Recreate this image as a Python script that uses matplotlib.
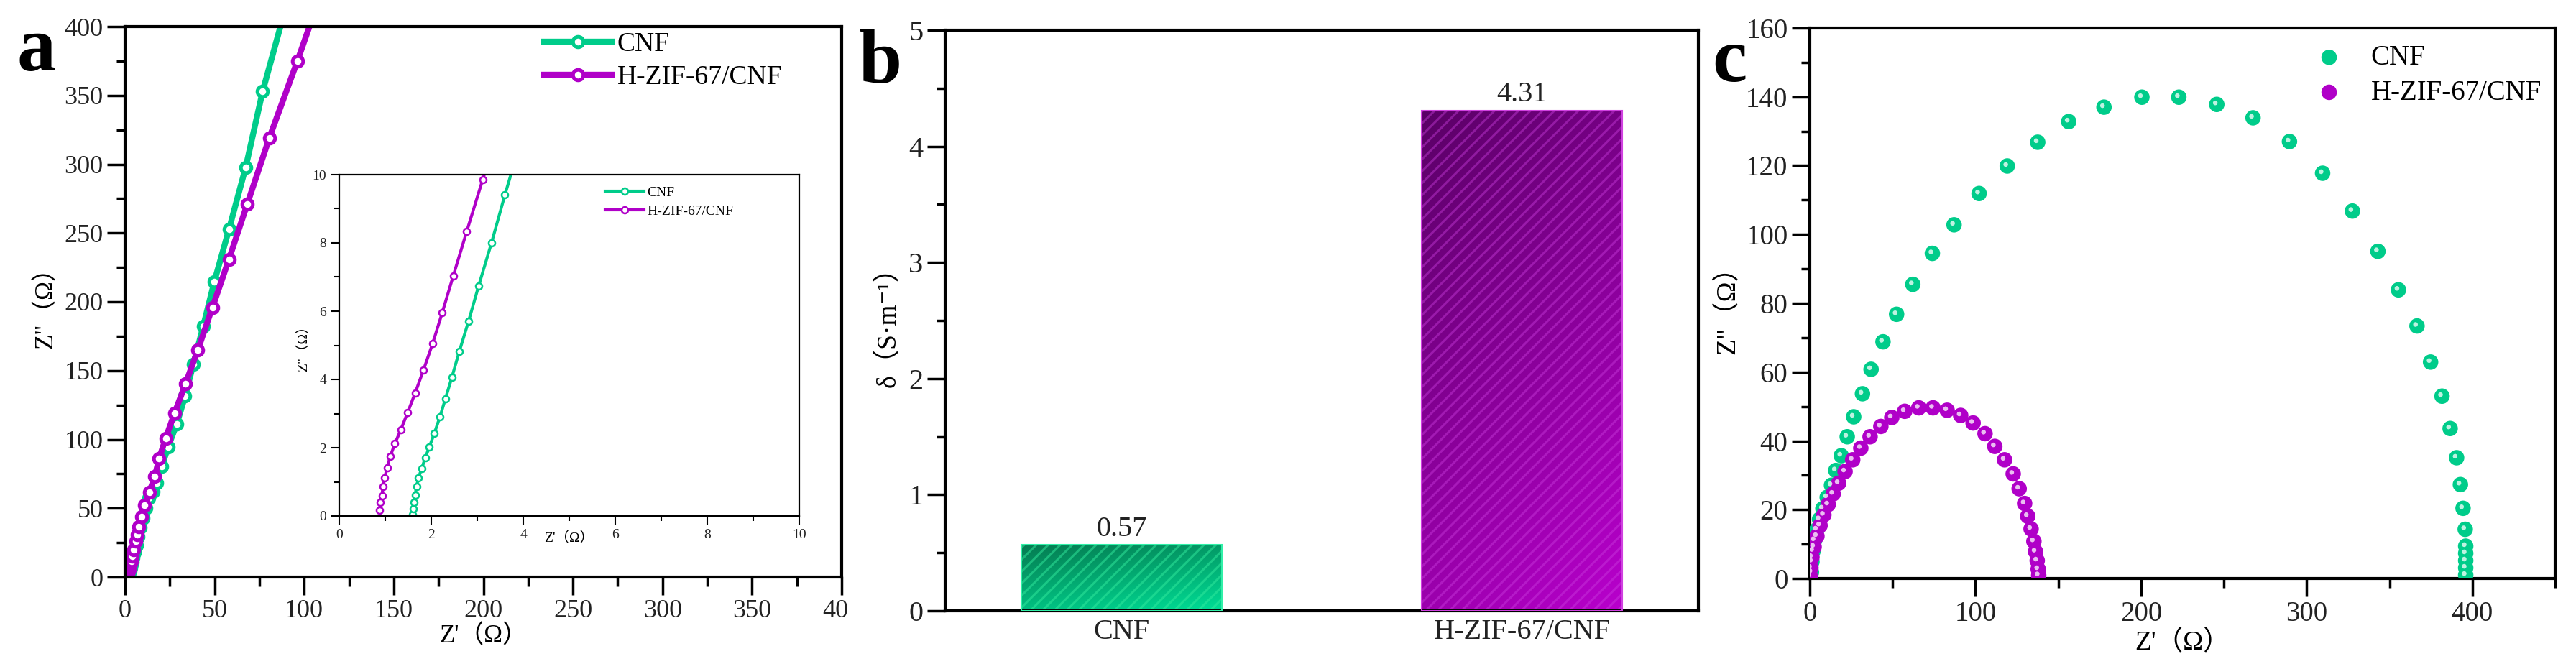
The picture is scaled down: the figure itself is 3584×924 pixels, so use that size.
import numpy as np
import matplotlib
matplotlib.use('Agg')
import matplotlib.pyplot as plt
from matplotlib.colors import LinearSegmentedColormap
from matplotlib.ticker import MultipleLocator
from matplotlib.transforms import Bbox, TransformedBbox, offset_copy

plt.rcParams['font.family'] = ['Liberation Serif', 'DejaVu Serif', 'Noto Sans CJK SC']
plt.rcParams['hatch.linewidth'] = 2.2

green = '#00cc8a'
purple = '#b000c8'
labels = ['CNF', 'H-ZIF-67/CNF']

# panel a - low frequency part of Nyquist plot
cnf_a_re = [1.59, 1.61, 1.63, 1.65, 1.68, 1.72, 1.79, 1.87, 1.96, 2.07, 2.19, 2.31, 2.45, 2.61,
            2.81, 3.03, 3.31, 3.60, 3.95, 4.6, 5.4, 6.3, 7.4, 8.6, 10.0, 11.6, 13.3, 15.5,
            17.5, 20.6, 24.0, 28.9, 33.5, 38.1, 43.6, 49.8, 58.0, 67.3, 76.8, 92.0]
cnf_a_im = [0.04, 0.22, 0.41, 0.62, 0.86, 1.11, 1.38, 1.70, 2.03, 2.43, 2.91, 3.44, 4.07, 4.82,
            5.70, 6.74, 8.0, 9.40, 11.0, 14.0, 18.0, 23.0, 29.0, 36.0, 43.0, 50.0, 57.5, 62.0,
            68.3, 80.6, 94.5, 111.4, 131.4, 154.5, 182.0, 214.5, 252.6, 297.5, 352.9, 425.0]
hzif_a_re = [0.88, 0.89, 0.93, 0.95, 0.99, 1.04, 1.11, 1.21, 1.34, 1.49, 1.65, 1.83, 2.03, 2.24,
             2.48, 2.77, 3.12, 3.5, 4.2, 5.0, 6.0, 6.8, 7.7, 9.2, 11.0, 13.5, 16.6, 19.0, 22.7,
             27.6, 33.8, 40.6, 48.8, 58.0, 68.2, 80.5, 96.2, 115.0]
hzif_a_im = [0.16, 0.39, 0.60, 0.86, 1.12, 1.42, 1.75, 2.12, 2.53, 3.04, 3.60, 4.27, 5.05, 5.96,
             7.04, 8.33, 9.86, 11.5, 15.0, 20.0, 26.0, 31.0, 36.6, 43.7, 52.0, 61.5, 73.0, 86.0,
             101.0, 119.0, 140.6, 165.0, 196.0, 231.0, 271.0, 319.0, 375.0, 445.0]

# panel b - conductivity
cond = [0.57, 4.31]

# panel c - full Nyquist plot
cnf_c_re = [1.0, 1.3, 2.0, 2.9, 4.3, 5.9, 7.9, 10.5, 13.1, 15.7, 19.0, 22.6, 26.5, 31.8, 37.0,
            44.2, 52.4, 62.2, 74.0, 87.1, 102.2, 119.2, 137.6, 156.3, 177.6, 200.5, 222.8,
            245.7, 267.6, 289.6, 309.6, 327.6, 343.0, 355.4, 366.6, 374.8, 381.7, 386.6,
            390.5, 392.8, 394.4, 395.7, 396.0, 396.0, 396.0, 396.0, 396.0]
cnf_c_im = [1.8, 4.9, 8.0, 11.1, 14.2, 17.2, 20.3, 23.6, 27.1, 31.4, 35.7, 41.2, 47.0, 53.7, 60.8,
            68.8, 76.8, 85.5, 94.5, 102.8, 111.9, 119.9, 126.8, 132.8, 137.0, 139.9, 139.9,
            137.8, 133.9, 127.0, 117.8, 106.8, 95.1, 83.9, 73.4, 62.9, 53.0, 43.6,
            35.1, 27.3, 20.4, 14.3, 9.4, 7.3, 5.2, 3.1, 1.0]
hzif_c_re = [0.3, 0.7, 1.3, 2.6, 4.3, 6.2, 8.5, 11.1, 14.1, 17.4, 21.3, 25.9, 30.8, 36.4, 42.9,
             49.5, 57.3, 65.8, 74.4, 82.9, 91.1, 98.6, 105.8, 111.7, 117.6, 122.8, 126.4,
             129.7, 131.6, 133.6, 135.3, 136.3, 137.3, 137.9, 138.2]
hzif_c_im = [0.6, 3.1, 6.2, 9.2, 12.3, 15.4, 18.5, 21.5, 24.6, 27.7, 31.1, 34.5, 37.9, 41.2, 44.2,
             46.8, 48.6, 49.6, 49.6, 48.9, 47.4, 45.2, 42.1, 38.4, 34.5, 30.4, 26.1,
             21.8, 18.1, 14.4, 10.8, 7.8, 5.2, 2.7, 0.9]

W, H = 3584, 924
fig = plt.figure(figsize=(W / 100, H / 100), dpi=100)


def px_axes(left, top, right, bottom):
    return fig.add_axes([left / W, 1 - bottom / H, (right - left) / W, (bottom - top) / H])


def style(ax, fs, lw=3, major=18, minor=9, width=2.5):
    for s in ax.spines.values():
        s.set_linewidth(lw)
    ax.tick_params(which='major', direction='out', length=major, width=width,
                   labelsize=fs, labelcolor='#222222', pad=4)
    ax.tick_params(which='minor', direction='out', length=minor, width=width)


# ---- panel a
ax1 = px_axes(174, 37, 1171, 803)
ax1.plot(cnf_a_re, cnf_a_im, '-o', color=green, lw=6, ms=10.5, mfc='white', mec=green, mew=3.6,
         label=labels[0])
ax1.plot(hzif_a_re, hzif_a_im, '-o', color=purple, lw=6, ms=10.5, mfc='white', mec=purple, mew=3.6,
         label=labels[1])
ax1.set_xlim(0, 400)
ax1.set_ylim(0, 400)
ax1.xaxis.set_major_locator(MultipleLocator(50))
ax1.xaxis.set_minor_locator(MultipleLocator(25))
ax1.yaxis.set_major_locator(MultipleLocator(50))
ax1.yaxis.set_minor_locator(MultipleLocator(25))
style(ax1, 26)
ax1.set_xlabel("Z'（Ω）", fontsize=25, labelpad=2)
ax1.set_ylabel('Z"（Ω）', fontsize=25, labelpad=6)
ax1.legend(loc='upper left', bbox_to_anchor=(0.585, 0.99), frameon=False, fontsize=27,
           handlelength=2.5, handletextpad=0.2, labelspacing=0.3, borderpad=0, borderaxespad=0)
fig.canvas.draw()
clip = TransformedBbox(Bbox.from_extents(0, 0, 1180 / W, 1), fig.transFigure)
for t in ax1.get_xticklabels():
    t.set_clip_box(clip)
    t.set_clip_on(True)

# inset
ins = px_axes(472, 243, 1112, 718)
ins.plot(cnf_a_re, cnf_a_im, '-o', color=green, lw=3, ms=6.5, mfc='white', mec=green, mew=1.8,
         label=labels[0])
ins.plot(hzif_a_re, hzif_a_im, '-o', color=purple, lw=3, ms=6.5, mfc='white', mec=purple, mew=1.8,
         label=labels[1])
ins.set_xlim(0, 10)
ins.set_ylim(0, 10)
ins.xaxis.set_major_locator(MultipleLocator(2))
ins.xaxis.set_minor_locator(MultipleLocator(1))
ins.yaxis.set_major_locator(MultipleLocator(2))
ins.yaxis.set_minor_locator(MultipleLocator(1))
style(ins, 14, lw=1.6, major=9, minor=5, width=1.5)
ins.set_xlabel("Z'（Ω）", fontsize=14, labelpad=-10)
ins.set_ylabel('Z"（Ω）', fontsize=14, labelpad=2)
ins.legend(loc='upper left', bbox_to_anchor=(0.578, 0.965), frameon=False, fontsize=14,
           handlelength=2.8, handletextpad=0.2, labelspacing=0.4, borderpad=0, borderaxespad=0)

# ---- panel b
ax2 = px_axes(1315, 42, 2363, 850)
xpos = np.arange(len(labels))
cmaps = [LinearSegmentedColormap.from_list('g', ['#057a50', '#00de96']),
         LinearSegmentedColormap.from_list('p', ['#5a0066', '#b800cc'])]
hatch_cols = [(0.2, 0.92, 0.62, 0.5), (0.80, 0.25, 0.88, 0.42)]
edge_cols = ['#30f0a8', '#d040e0']
bars = ax2.bar(xpos, cond, width=0.5, color='none', edgecolor=edge_cols, linewidth=1.5, zorder=3)
gx, gy = np.meshgrid(np.linspace(0, 1, 200), np.linspace(0, 1, 200))
grad = 0.3 * gx + 0.7 * gy
for bar, cm, hc in zip(bars, cmaps, hatch_cols):
    x0, y0 = bar.get_xy()
    w, h = bar.get_width(), bar.get_height()
    im = ax2.imshow(grad, cmap=cm, extent=[x0, x0 + w, y0, y0 + h], origin='upper',
                    aspect='auto', zorder=1)
    im.set_clip_path(bar)
    ax2.bar(x0 + w / 2, h, width=w, color='none', edgecolor=hc, hatch='//', linewidth=0, zorder=2)
for xi, v in zip(xpos, cond):
    ax2.text(xi, v + 0.02, f'{v:.2f}', ha='center', va='bottom', fontsize=29, color='#222222')
ax2.set_xlim(-0.44, 1.44)
ax2.set_ylim(0, 5)
ax2.set_xticks(xpos)
ax2.set_xticklabels(labels)
ax2.yaxis.set_major_locator(MultipleLocator(1))
ax2.yaxis.set_minor_locator(MultipleLocator(0.5))
style(ax2, 29)
ax2.tick_params(axis='x', length=0, pad=8)
ax2.set_ylabel('δ（S·m⁻¹）', fontsize=27, labelpad=8)

# ---- panel c
ax3 = px_axes(2518, 39, 3555, 805)
for zre, zim, col, lab in [(cnf_c_re, cnf_c_im, green, labels[0]),
                           (hzif_c_re, hzif_c_im, purple, labels[1])]:
    ax3.scatter(zre, zim, s=240, color=col, edgecolors='none', label=lab, zorder=3)
    hl = offset_copy(ax3.transData, fig=fig, x=-1.5, y=1.5, units='points')
    ax3.scatter(zre, zim, s=22, color='white', alpha=0.75, edgecolors='none', transform=hl, zorder=4)
ax3.set_xlim(0, 450)
ax3.set_ylim(0, 160)
ax3.xaxis.set_major_locator(MultipleLocator(100))
ax3.xaxis.set_minor_locator(MultipleLocator(50))
ax3.yaxis.set_major_locator(MultipleLocator(20))
ax3.yaxis.set_minor_locator(MultipleLocator(10))
style(ax3, 28)
ax3.set_xlabel("Z'（Ω）", fontsize=27, labelpad=2)
ax3.set_ylabel('Z"（Ω）', fontsize=27, labelpad=6)
ax3.legend(loc='upper left', bbox_to_anchor=(0.678, 0.97), frameon=False, fontsize=28,
           handlelength=1.0, handletextpad=1.0, labelspacing=0.3, borderpad=0, borderaxespad=0,
           scatterpoints=1)

# panel letters
for letter, xl, yb in [('a', 23, 98), ('b', 1195, 115), ('c', 2382, 113)]:
    fig.text(xl / W, 1 - yb / H, letter, fontsize=78, fontweight='bold', va='baseline', ha='left')

fig.savefig('out.png', dpi=100)
